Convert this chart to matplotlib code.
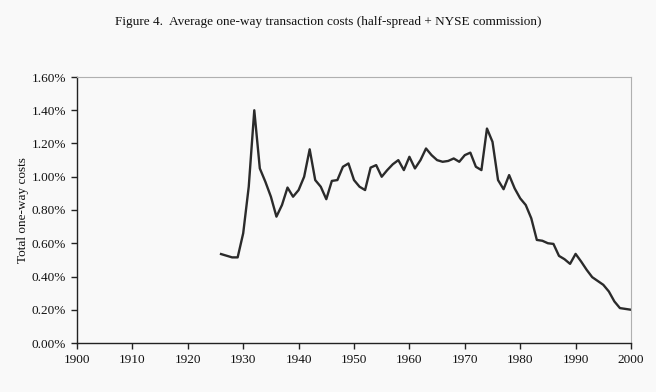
import matplotlib.pyplot as plt
from matplotlib.ticker import FuncFormatter

years = list(range(1926, 2001))
costs = [0.535, 0.525, 0.515, 0.515, 0.66, 0.94, 1.40, 1.05, 0.97, 0.88,
         0.76, 0.83, 0.935, 0.88, 0.92, 1.00, 1.165, 0.98, 0.94, 0.865,
         0.975, 0.98, 1.06, 1.08, 0.98, 0.94, 0.92, 1.055, 1.07, 1.00,
         1.04, 1.075, 1.10, 1.04, 1.12, 1.05, 1.10, 1.17, 1.13, 1.10,
         1.09, 1.095, 1.11, 1.09, 1.13, 1.145, 1.06, 1.04, 1.29, 1.21,
         0.98, 0.925, 1.01, 0.93, 0.87, 0.83, 0.75, 0.62, 0.615, 0.60,
         0.596, 0.524, 0.504, 0.476, 0.536, 0.49, 0.44, 0.396, 0.373, 0.35,
         0.31, 0.25, 0.21, 0.205, 0.20]

bg = '#f9f9f9'
plt.rcParams['font.family'] = ['Liberation Serif', 'DejaVu Serif']

fig = plt.figure(figsize=(6.56, 3.92), dpi=100, facecolor=bg)
ax = fig.add_axes([77/656, 1 - 343/392, (631-77)/656, (343-77)/392])
ax.set_facecolor(bg)

ax.plot(years, costs, color='#2b2b2b', lw=1.7)

ax.set_xlim(1900, 2000)
ax.set_ylim(0, 1.6)
ax.set_xticks(range(1900, 2001, 10))
ax.set_yticks([i * 0.2 for i in range(9)])
ax.yaxis.set_major_formatter(FuncFormatter(lambda v, p: '%.2f%%' % v))

for s in ['left', 'bottom']:
    ax.spines[s].set_color('#222222')
    ax.spines[s].set_linewidth(1.0)
for s in ['top', 'right']:
    ax.spines[s].set_color('#b0b0b0')
    ax.spines[s].set_linewidth(0.8)

ax.tick_params(direction='out', length=4, width=1, color='#222222',
               labelsize=9.5, labelcolor='#111111', pad=4)
ax.set_ylabel('Total one-way costs', fontsize=9.5, color='#111111', labelpad=2)

fig.text(0.5, 1 - 22/392, 'Figure 4.  Average one-way transaction costs (half-spread + NYSE commission)',
         ha='center', va='center', fontsize=9.5, color='#111111')

fig.savefig('out.png', dpi=100, facecolor=bg)
